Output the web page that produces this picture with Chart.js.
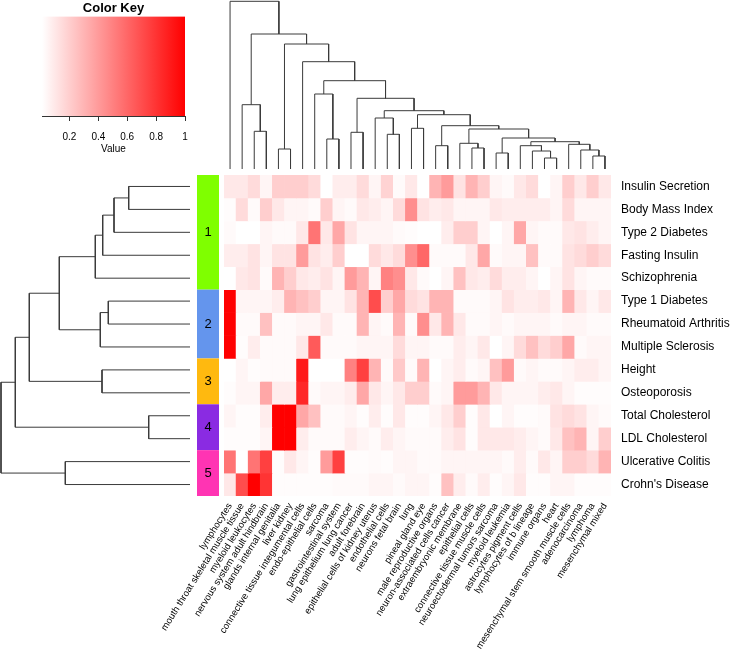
<!DOCTYPE html>
<html>
<head>
<meta charset="utf-8">
<script src="https://cdn.jsdelivr.net/npm/chart.js@4.4.1/dist/chart.umd.min.js"></script>
<style>
  body { margin: 0; background: #fff; }
  #wrap { position: relative; width: 730px; height: 654px; }
  canvas { position: absolute; }
</style>
</head>
<body>
<div id="wrap">
  <canvas id="heatmap" width="730" height="479" style="left:0;top:175px"></canvas>
  <canvas id="rowTree" width="190" height="321" style="left:0;top:175px"></canvas>
  <canvas id="colTree" width="387" height="169" style="left:224px;top:0"></canvas>
  <canvas id="colorKey" width="200" height="158" style="left:0;top:0"></canvas>
</div>
<script>
// Data
const rowLabels = ['Insulin Secretion', 'Body Mass Index', 'Type 2 Diabetes', 'Fasting Insulin',
  'Schizophrenia', 'Type 1 Diabetes', 'Rheumatoid Arthritis', 'Multiple Sclerosis', 'Height',
  'Osteoporosis', 'Total Cholesterol', 'LDL Cholesterol', 'Ulcerative Colitis', "Crohn's Disease"];

const colLabels = ['lymphocytes', 'mouth throat skeletal muscle tissue', 'myeloid leukocytes',
  'nervous system adult hindbrain', 'glands internal genitalia', 'liver kidney',
  'connective tissue integumental cells', 'endo-epithelial cells', 'sarcoma',
  'gastrointestinal system', 'lung epithelium lung cancer', 'adult forebrain',
  'epithelial cells of kidney uterus', 'endothelial cells', 'neurons fetal brain', 'lung',
  'pineal gland eye', 'male reproductive organs', 'neuron-associated cells cancer',
  'extraembryonic membrane', 'epithelial cells', 'connective tissue muscle cells',
  'neuroectodermal tumors sarcoma', 'myeloid leukemia', 'astrocytes pigment cells',
  'lymphocytes of b lineage', 'immune organs', 'heart', 'mesenchymal stem smooth muscle cells',
  'adenocarcinoma', 'lymphoma', 'mesenchymal mixed'];

// one row per trait, in column order
const heatValues = [
  [0.1, 0.1, 0.15, 0.05, 0.2, 0.2, 0.2, 0.15, 0, 0.08, 0.08, 0.15, 0.05, 0.18, 0.03, 0.1, 0, 0.3, 0.4, 0.12, 0.3, 0.2, 0.05, 0.03, 0.1, 0.15, 0, 0.05, 0.2, 0.1, 0.2, 0.1],
  [0.02, 0.15, 0.03, 0.2, 0.1, 0.05, 0.05, 0.03, 0.2, 0.05, 0.03, 0.1, 0.08, 0.05, 0.15, 0.45, 0.12, 0.08, 0.1, 0.05, 0.05, 0.05, 0.1, 0.08, 0.08, 0.08, 0.08, 0.05, 0.15, 0.05, 0.05, 0.05],
  [0.03, 0, 0, 0.05, 0.03, 0.03, 0.1, 0.55, 0.1, 0.35, 0.12, 0.05, 0.05, 0.05, 0.03, 0.02, 0, 0, 0.08, 0.2, 0.2, 0.05, 0, 0.05, 0.35, 0.05, 0.03, 0.03, 0.1, 0.12, 0.08, 0.05],
  [0.08, 0.08, 0.12, 0.05, 0.12, 0.12, 0.4, 0.12, 0.08, 0.2, 0, 0, 0.15, 0.1, 0.15, 0.45, 0.6, 0.03, 0.03, 0.03, 0.1, 0.35, 0.03, 0.05, 0.05, 0.25, 0.03, 0.03, 0.12, 0.15, 0.2, 0.15],
  [0, 0.1, 0.12, 0.03, 0.3, 0.2, 0.1, 0.08, 0.12, 0.05, 0.4, 0.3, 0.05, 0.5, 0.45, 0.1, 0.03, 0, 0.05, 0.25, 0.1, 0.08, 0.15, 0.08, 0.08, 0.05, 0, 0.05, 0.12, 0.05, 0.03, 0.03],
  [1, 0.05, 0.05, 0.05, 0.08, 0.3, 0.25, 0.2, 0.05, 0.05, 0.12, 0.3, 0.7, 0.2, 0.35, 0.15, 0.12, 0.3, 0.3, 0.03, 0.03, 0.03, 0.05, 0.12, 0.08, 0.08, 0.1, 0.05, 0.3, 0.1, 0.05, 0.1],
  [1, 0.03, 0.03, 0.25, 0.03, 0.03, 0.05, 0.05, 0.1, 0.03, 0.03, 0.3, 0.05, 0.03, 0.3, 0.03, 0.45, 0.1, 0.3, 0.1, 0.03, 0.03, 0.05, 0.03, 0.05, 0.05, 0.05, 0.03, 0.05, 0.05, 0.03, 0.03],
  [1, 0.02, 0.08, 0.03, 0.03, 0.03, 0.1, 0.65, 0.03, 0.03, 0.03, 0.05, 0.05, 0.05, 0.15, 0.05, 0.05, 0.03, 0.03, 0.08, 0.05, 0.1, 0, 0.05, 0.15, 0.25, 0.15, 0.2, 0.35, 0.03, 0.05, 0.05],
  [0, 0.05, 0.02, 0.03, 0.03, 0.03, 0.9, 0, 0, 0, 0.5, 0.75, 0.3, 0.03, 0.22, 0.03, 0.3, 0, 0.05, 0.08, 0.03, 0.05, 0.25, 0.4, 0.03, 0.05, 0.03, 0.03, 0.05, 0.08, 0.08, 0.05],
  [0.02, 0.05, 0.05, 0.35, 0.08, 0.08, 0.85, 0.03, 0.05, 0.05, 0.08, 0.35, 0.1, 0.05, 0.1, 0.2, 0.2, 0.03, 0.05, 0.4, 0.4, 0.3, 0.1, 0.05, 0.05, 0.05, 0.08, 0.1, 0.05, 0.02, 0.02, 0.02],
  [0.05, 0.02, 0.02, 0.08, 1, 1, 0.35, 0.25, 0.03, 0.03, 0.05, 0.02, 0.08, 0.02, 0.1, 0.02, 0.02, 0.05, 0.1, 0.2, 0.02, 0.1, 0, 0.05, 0.02, 0.02, 0.03, 0.12, 0.15, 0.12, 0.05, 0.03],
  [0.02, 0.02, 0.02, 0.05, 1, 1, 0.08, 0.03, 0.03, 0.03, 0.08, 0.05, 0.03, 0.08, 0.05, 0.03, 0.03, 0.03, 0.08, 0.12, 0.02, 0.1, 0.1, 0.1, 0.08, 0.05, 0.03, 0.1, 0.25, 0.3, 0.05, 0.2],
  [0.55, 0, 0.55, 0.75, 0.02, 0.1, 0.05, 0.02, 0.4, 0.75, 0.02, 0.02, 0.03, 0.02, 0.05, 0.05, 0.03, 0.03, 0.05, 0.05, 0.05, 0.05, 0.05, 0.03, 0.08, 0.03, 0.1, 0.05, 0.2, 0.2, 0.15, 0.3],
  [0.1, 0.7, 1, 0.8, 0.02, 0.02, 0.02, 0.02, 0.02, 0.03, 0.03, 0.03, 0.05, 0.05, 0.03, 0.05, 0.05, 0.02, 0.25, 0.08, 0.03, 0.08, 0.02, 0.05, 0.1, 0.02, 0.02, 0.05, 0.05, 0.02, 0.02, 0.02]
];

// row clusters (sizes, top to bottom) and their labels
const groupSizes = [5, 3, 2, 2, 2];
const groupNames = ['1', '2', '3', '4', '5'];

// dendrograms in hclust style: negative = leaf (display position), positive = earlier merge
const colMerges = [
  [-27, -28, 11], [-31, -32, 13], [-23, -24, 16], [-26, 1, 18], [-30, 2, 19],
  [-5, -6, 20], [-21, -22, 21], [-25, 4, 23.3], [-18, -19, 23.3], [-29, 5, 24.7],
  [-20, 7, 25.7], [8, 10, 27.3], [-9, -10, 30], [3, 12, 31], [-14, -15, 34.7],
  [-11, -12, 36.7], [-3, -4, 37.7], [11, 14, 40], [-16, -17, 40.7], [9, 18, 43.3],
  [-13, 15, 51], [19, 20, 54.3], [21, 22, 58.3], [-2, 17, 64.3], [16, 23, 70.7],
  [-8, 13, 75], [26, 25, 88.3], [-7, 27, 107.3], [6, 28, 125], [24, 29, 135],
  [-1, 30, 167.7]
];
const rowMerges = [
  [-11, -12, 41.3], [-1, -2, 61.3], [2, -3, 76], [-6, -7, 81.7], [3, -4, 87.3],
  [-9, -10, 88], [4, -8, 89.7], [5, -5, 94.7], [-13, -14, 124.7], [8, 7, 130.7],
  [10, 6, 160.7], [11, 1, 174.7], [12, 9, 189]
];

const keyMin = 0.01;
const keyMax = 1;
const keyTicks = [0.2, 0.4, 0.6, 0.8, 1];

// Styles
const groupColors = ['#7FFF00', '#6495ED', '#FFB90F', '#8A2BE2', '#FF34B3'];
const treeColor = '#3a3a3a';

Chart.defaults.font.family = '"Liberation Sans", Arial, sans-serif';
Chart.defaults.color = '#000';

function heatColor(v) {
  let t = (v - keyMin) / (keyMax - keyMin);
  t = Math.max(0, Math.min(1, t));
  const gb = Math.round(255 * (1 - t));
  return `rgb(255, ${gb}, ${gb})`;
}

// turn merges into one bracket dataset per merge
function treeDatasets(merges, toPoint) {
  const pos = [];
  const hgt = [];
  const node = id => id < 0 ? { p: -id - 1 + 0.5, h: 0 } : { p: pos[id - 1], h: hgt[id - 1] };
  return merges.map(([a, b, h], i) => {
    const A = node(a);
    const B = node(b);
    pos[i] = (A.p + B.p) / 2;
    hgt[i] = h;
    return {
      data: [toPoint(A.p, A.h), toPoint(A.p, h), toPoint(B.p, h), toPoint(B.p, B.h)],
      showLine: true,
      borderColor: treeColor,
      borderWidth: 1,
      pointRadius: 0,
      tension: 0,
      clip: false
    };
  });
}

const noPlugins = { legend: { display: false }, tooltip: { enabled: false } };

// Row side colours
const rowSidePlugin = {
  id: 'rowSide',
  afterDraw(chart) {
    const { ctx, chartArea, scales: { y } } = chart;
    const n = rowLabels.length;
    let start = 0;
    ctx.save();
    groupSizes.forEach((size, g) => {
      const top = y.getPixelForValue(n - start);
      const bottom = y.getPixelForValue(n - start - size);
      ctx.fillStyle = groupColors[g];
      ctx.fillRect(chartArea.left - 27, top, 22, bottom - top);
      ctx.fillStyle = '#000';
      ctx.font = '13px "Liberation Sans", Arial, sans-serif';
      ctx.textAlign = 'center';
      ctx.textBaseline = 'middle';
      ctx.fillText(groupNames[g], chartArea.left - 16, (top + bottom) / 2);
      start += size;
    });
    ctx.restore();
  }
};

// Heatmap
new Chart(document.getElementById('heatmap'), {
  type: 'bar',
  data: {
    labels: colLabels,
    datasets: rowLabels.map((name, r) => ({
      label: name,
      data: colLabels.map(() => [rowLabels.length - 1 - r, rowLabels.length - r]),
      backgroundColor: heatValues[r].map(heatColor),
      borderWidth: 0,
      barPercentage: 1,
      categoryPercentage: 1,
      grouped: false
    }))
  },
  options: {
    responsive: false,
    animation: false,
    layout: { padding: { left: 224 } },
    plugins: noPlugins,
    scales: {
      x: {
        grid: { display: false },
        border: { display: false },
        ticks: { autoSkip: false, minRotation: 58, maxRotation: 58, padding: -3, font: { size: 9.5 } },
        afterFit: s => { s.height = 158; s.paddingLeft = 0; s.paddingRight = 0; }
      },
      y: {
        position: 'right',
        min: 0,
        max: rowLabels.length,
        grid: { display: false, drawTicks: false },
        border: { display: false },
        afterBuildTicks: s => { s.ticks = rowLabels.map((_, i) => ({ value: rowLabels.length - 0.5 - i })); },
        ticks: {
          autoSkip: false,
          padding: 10,
          font: { size: 12 },
          callback: v => rowLabels[Math.round(rowLabels.length - 0.5 - v)]
        },
        afterFit: s => { s.width = 119; s.paddingTop = 0; s.paddingBottom = 0; }
      }
    }
  },
  plugins: [rowSidePlugin]
});

// Column dendrogram
new Chart(document.getElementById('colTree'), {
  type: 'scatter',
  data: { datasets: treeDatasets(colMerges, (p, h) => ({ x: p, y: h })) },
  options: {
    responsive: false,
    animation: false,
    plugins: noPlugins,
    scales: {
      x: { display: false, min: 0, max: colLabels.length },
      y: { display: false, min: 0, max: 169 }
    }
  }
});

// Row dendrogram
new Chart(document.getElementById('rowTree'), {
  type: 'scatter',
  data: { datasets: treeDatasets(rowMerges, (p, h) => ({ x: h, y: rowLabels.length - p })) },
  options: {
    responsive: false,
    animation: false,
    plugins: noPlugins,
    scales: {
      x: { display: false, min: 0, max: 190, reverse: true },
      y: { display: false, min: 0, max: rowLabels.length }
    }
  }
});

// Color key
new Chart(document.getElementById('colorKey'), {
  type: 'bar',
  data: {
    labels: [''],
    datasets: [{
      data: [[keyMin, keyMax]],
      backgroundColor: c => {
        const { chart } = c;
        if (!chart.chartArea) return '#fff';
        const x = chart.scales.x;
        const g = chart.ctx.createLinearGradient(x.getPixelForValue(keyMin), 0, x.getPixelForValue(keyMax), 0);
        g.addColorStop(0, heatColor(keyMin));
        g.addColorStop(1, heatColor(keyMax));
        return g;
      },
      borderWidth: 0,
      barPercentage: 1,
      categoryPercentage: 1
    }]
  },
  options: {
    indexAxis: 'y',
    responsive: false,
    animation: false,
    layout: { padding: { left: 42, right: 15 } },
    plugins: {
      legend: { display: false },
      tooltip: { enabled: false },
      title: { display: true, text: 'Color Key', font: { size: 13, weight: 'bold' }, padding: { top: 1, bottom: 0 } }
    },
    scales: {
      x: {
        min: keyMin,
        max: keyMax,
        afterBuildTicks: s => { s.ticks = keyTicks.map(v => ({ value: v })); },
        ticks: { padding: 10, font: { size: 10 }, callback: v => String(v) },
        grid: { drawOnChartArea: false, color: '#333', tickLength: 5 },
        border: { color: '#333' },
        title: { display: true, text: 'Value', font: { size: 10 }, padding: { top: 0, bottom: 3 } },
        afterFit: s => { s.height = 42; }
      },
      y: { display: false }
    }
  }
});
</script>
</body>
</html>
